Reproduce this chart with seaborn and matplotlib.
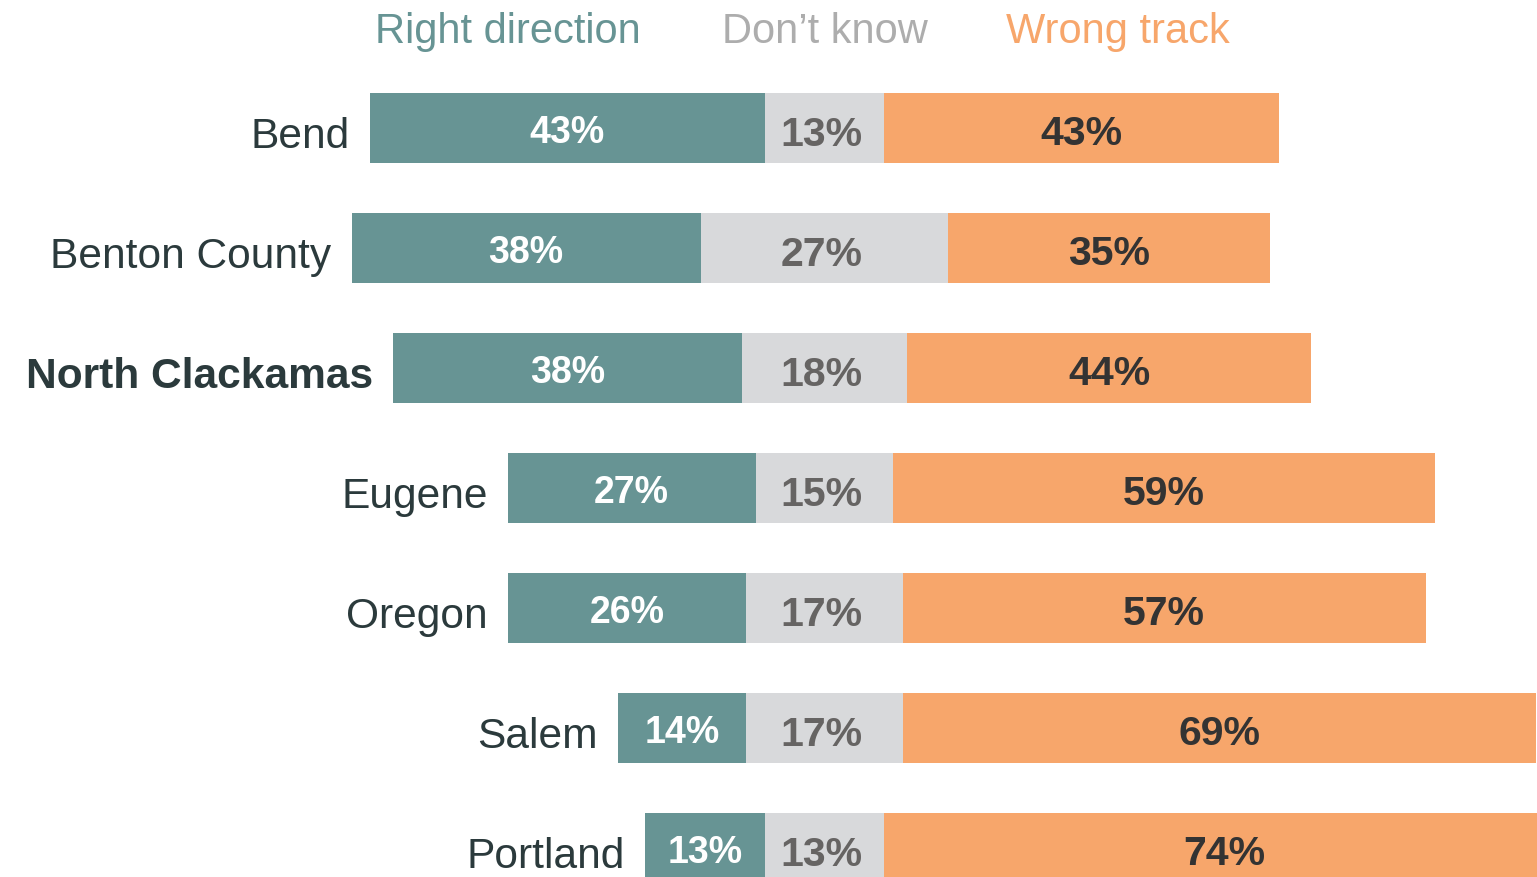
import matplotlib
matplotlib.use("Agg")
import matplotlib.pyplot as plt
import seaborn as sns
import pandas as pd

# survey data
places = ["Bend", "Benton County", "North Clackamas", "Eugene", "Oregon", "Salem", "Portland"]
right_dir = [43, 38, 38, 27, 26, 14, 13]
dont_know = [13, 27, 18, 15, 17, 17, 13]
wrong_track = [43, 35, 44, 59, 57, 69, 74]

teal = "#679494"
grey = "#d8d9db"
orange = "#f7a66b"

sns.set_theme(style="white")
plt.rcParams["font.family"] = ["Liberation Sans", "DejaVu Sans"]

df = pd.DataFrame({"place": places, "right": right_dir, "dk": dont_know, "wrong": wrong_track})
# diverging layout, centred on middle of "don't know"
df["left_end"] = -(df["dk"] / 2 + df["right"])
df["right_end"] = df["dk"] / 2 + df["wrong"]
df["dk_neg"] = -df["dk"] / 2
df["dk_pos"] = df["dk"] / 2

fig = plt.figure(figsize=(15.37, 8.78), dpi=100)
ax = fig.add_axes([0, 0, 1, 1])

w = 0.59
sns.barplot(data=df, y="place", x="left_end", color=teal, orient="h", width=w, linewidth=0, saturation=1, ax=ax)
sns.barplot(data=df, y="place", x="right_end", color=orange, orient="h", width=w, linewidth=0, saturation=1, ax=ax)
sns.barplot(data=df, y="place", x="dk_neg", color=grey, orient="h", width=w, linewidth=0, saturation=1, ax=ax)
sns.barplot(data=df, y="place", x="dk_pos", color=grey, orient="h", width=w, linewidth=0, saturation=1, ax=ax)

for i, row in df.iterrows():
    # category name
    ax.text(row["left_end"] - 2.2, i + 0.07, row["place"], ha="right", va="center",
            fontsize=30.6, color="#2b3a3c",
            fontweight="bold" if row["place"] == "North Clackamas" else "normal")
    ax.text(row["left_end"] + row["right"] / 2, i + 0.03, f"{row['right']}%", ha="center", va="center",
            fontsize=27, color="white", fontweight="bold")
    ax.text(-0.3, i + 0.05, f"{row['dk']}%", ha="center", va="center",
            fontsize=29.5, color="#666463", fontweight="bold")
    ax.text(row["dk"] / 2 + row["wrong"] / 2, i + 0.04, f"{row['wrong']}%", ha="center", va="center",
            fontsize=29.5, color="#333333", fontweight="bold")

# header "legend"
ax.text(-34.5, -0.81, "Right direction", ha="center", va="center", fontsize=30, color=teal)
ax.text(0, -0.81, "Don\u2019t know", ha="center", va="center", fontsize=30, color="#adadad")
ax.text(32, -0.81, "Wrong track", ha="center", va="center", fontsize=30, color=orange)

ax.set_xlim(-89.8, 77.6)
ax.set_ylim(6.242, -1.075)
ax.axis("off")

fig.savefig("out.png", dpi=100)
